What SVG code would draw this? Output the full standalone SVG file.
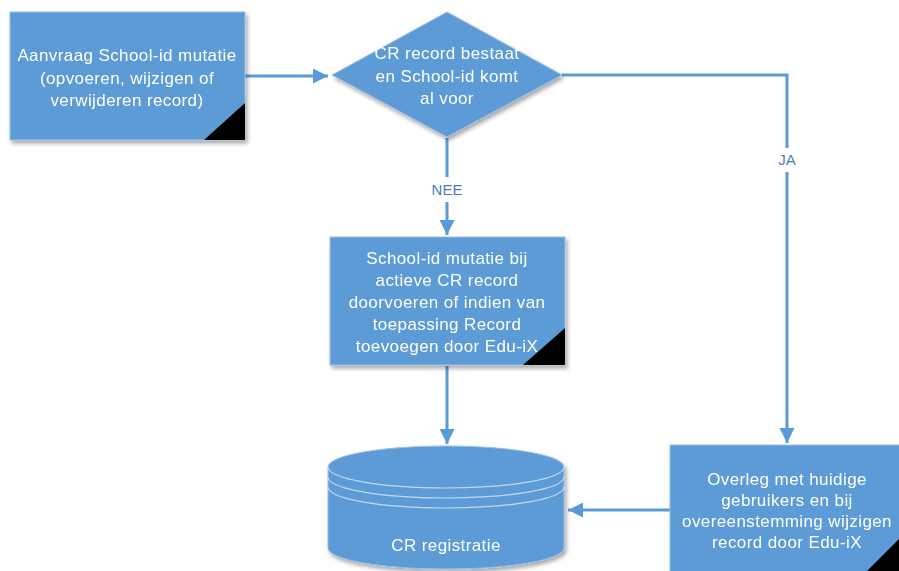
<svg xmlns="http://www.w3.org/2000/svg" width="899" height="571" viewBox="0 0 899 571">
<defs>
<style>
.node{fill:#5B9BD5;stroke:#9dbfe3;stroke-width:1}
.t{font-family:"Liberation Sans",Arial,sans-serif;font-size:17px;letter-spacing:0.4px;fill:#ffffff;text-anchor:middle}
.lbl{font-family:"Liberation Sans",Arial,sans-serif;font-size:15px;fill:#4a7ebb;text-anchor:middle}
.conn{fill:none;stroke:#5B9BD5;stroke-width:3}
.corner{fill:#000000}
.ring{fill:none;stroke:#c5d9ee;stroke-width:1.2}
</style>
<marker id="arr" viewBox="0 0 10 10" refX="10" refY="5" markerWidth="5" markerHeight="5" orient="auto" markerUnits="strokeWidth">
<path d="M0,0 L10,5 L0,10 z" fill="#5B9BD5"/>
</marker>
<filter id="sh" x="-10%" y="-10%" width="130%" height="130%">
<feGaussianBlur in="SourceAlpha" stdDeviation="2"/>
<feOffset dx="2" dy="3" result="b"/>
<feComponentTransfer><feFuncA type="linear" slope="0.35"/></feComponentTransfer>
<feMerge><feMergeNode/><feMergeNode in="SourceGraphic"/></feMerge>
</filter>
</defs>
<rect width="899" height="571" fill="#ffffff"/>
<g id="connectors">
<line class="conn" x1="245" y1="76" x2="328" y2="76" marker-end="url(#arr)"/>
<line class="conn" x1="447" y1="138" x2="447" y2="177"/>
<line class="conn" x1="447" y1="202" x2="447" y2="235" marker-end="url(#arr)"/>
<polyline class="conn" points="562,75 787,75 787,148"/>
<line class="conn" x1="787" y1="172" x2="787" y2="443" marker-end="url(#arr)"/>
<line class="conn" x1="447" y1="366" x2="447" y2="444" marker-end="url(#arr)"/>
<line class="conn" x1="670" y1="510" x2="568" y2="510" marker-end="url(#arr)"/>
<text class="lbl" x="447" y="195">NEE</text>
<text class="lbl" x="787" y="165">JA</text>
</g>
<g id="n1" filter="url(#sh)">
<rect class="node" x="10" y="12" width="235" height="128"/>
<polygon class="corner" points="245,103 245,140 204,140"/>
<text class="t" x="127" y="61">Aanvraag School-id mutatie</text>
<text class="t" x="127" y="84">(opvoeren, wijzigen of</text>
<text class="t" x="127" y="106">verwijderen record)</text>
</g>
<g id="n2" filter="url(#sh)">
<polygon class="node" points="447,12 562,75 447,137 332,75"/>
<text class="t" x="447" y="59">CR record bestaat</text>
<text class="t" x="447" y="82">en School-id komt</text>
<text class="t" x="447" y="104">al voor</text>
</g>
<g id="n3" filter="url(#sh)">
<rect class="node" x="330" y="237" width="235" height="128"/>
<polygon class="corner" points="565,328 565,365 523,365"/>
<text class="t" x="447" y="264">School-id mutatie bij</text>
<text class="t" x="447" y="286">actieve CR record</text>
<text class="t" x="447" y="308">doorvoeren of indien van</text>
<text class="t" x="447" y="330">toepassing Record</text>
<text class="t" x="447" y="352">toevoegen door Edu-iX</text>
</g>
<g id="n4" filter="url(#sh)">
<path class="node" d="M328,467 A118,21 0 0 1 564,467 L564,548 A118,21 0 0 1 328,548 Z"/>
<path class="ring" d="M328,467 A118,21 0 0 0 564,467"/>
<path class="ring" d="M328,477 A118,21 0 0 0 564,477"/>
<path class="ring" d="M328,487 A118,21 0 0 0 564,487"/>
<text class="t" x="446" y="551">CR registratie</text>
</g>
<g id="n5" filter="url(#sh)">
<rect class="node" x="670" y="445" width="235" height="128"/>
<polygon class="corner" points="905,533 905,573 865,573"/>
<text class="t" x="787" y="485">Overleg met huidige</text>
<text class="t" x="787" y="506">gebruikers en bij</text>
<text class="t" x="787" y="527">overeenstemming wijzigen</text>
<text class="t" x="787" y="548">record door Edu-iX</text>
</g>
</svg>
